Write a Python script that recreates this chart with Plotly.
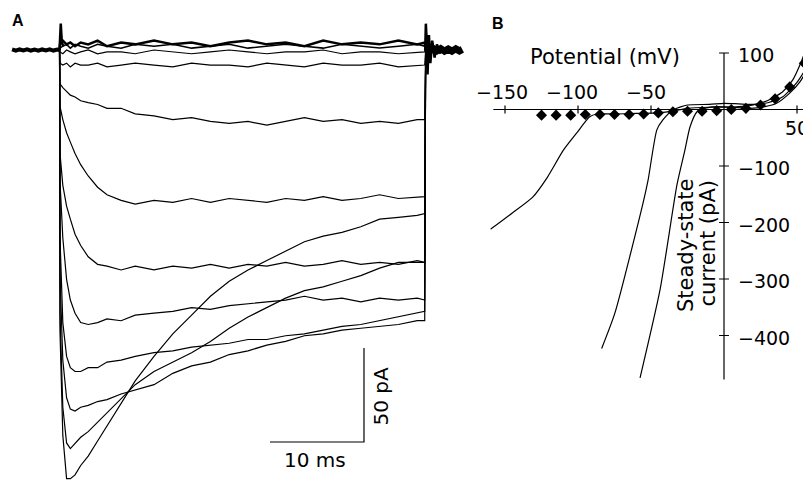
import plotly.graph_objects as go

# ================= Panel A : current traces =================
# time (ms) relative to step onset; current (pA)
t_pre = [-5.1, -4.7, -4.3, -3.9, -3.5, -3.1, -2.7, -2.3, -1.9, -1.5, -1.1, -0.7, -0.3, -0.05]
I_pre = [0.3, -0.4, 0.3, -0.2, 0.4, -0.3, 0.2, -0.4, 0.3, -0.2, 0.4, -0.3, 0.2, 0.0]

t_post = [38.95, 39.3, 39.7, 40.1, 40.5, 40.9, 41.3, 41.7, 42.1, 42.5, 42.8]
I_post = [1.0, -0.6, 0.8, -0.5, 0.7, -0.6, 0.5, -0.6, 0.6, -0.5, 0.3]

t_pulse = [0, 0.3, 0.7, 1.1, 1.6, 2.2, 3, 4, 5, 6.5, 8, 10, 12, 14, 16, 18, 20,
           22, 24, 26, 28, 30, 32, 34, 36, 38, 38.8]
t_step_off = 38.9

trace_z1 = [3, 5, 3, 4, 2, 4, 3, 5, 2, 4, 3, 5, 3, 4, 2, 4, 5, 3, 4, 2, 5, 3, 4, 3, 5, 3, 4]
trace_z2 = [1, 2, 3, 1, 3, 2, 1, 3, 2, 1, 3, 2, 3, 1, 2, 3, 1, 2, 3, 2, 1, 3, 2, 1, 2, 3, 2]
trace_z0 = [-1, -2, 0, -1, -2, -1, 0, -2, -1, -1, -2, 0, -1, -2, -1, 0, -1, -2, -1, -1, 0, -2, -1, -1, -2, -1, -1]
trace_3 = [-7, -8, -7, -9, -7, -8, -8, -7, -9, -8, -7, -8, -9, -7, -8, -8, -9, -7, -8, -9, -7, -8, -8, -7, -9, -8, -8]
trace_4 = [-18, -20, -22, -24, -25, -27, -28, -29, -31, -31, -34, -35, -37, -36, -38, -39, -38, -40, -38, -36, -38, -37, -39, -38, -39, -37, -37]
trace_5 = [-30, -37, -44, -49, -55, -61, -67, -73, -77, -80, -82, -80, -81, -79, -81, -79, -80, -81, -79, -80, -78, -80, -79, -77, -79, -78, -78]
trace_6 = [-55, -72, -83, -90, -98, -104, -110, -114, -115, -117, -115, -117, -115, -116, -114, -116, -114, -115, -113, -115, -114, -112, -114, -113, -114, -112, -113]
trace_7 = [-70, -100, -122, -133, -140, -145, -146, -145, -143, -144, -141, -140, -139, -137, -138, -136, -135, -134, -133, -131, -133, -132, -134, -132, -133, -132, -133]
trace_8 = [-100, -145, -163, -169, -171, -171, -169, -169, -166, -165, -163, -161, -160, -158, -157, -156, -154, -154, -152, -151, -149, -147, -146, -144, -142, -140, -139]
trace_9 = [-120, -165, -185, -191, -192, -190, -189, -187, -186, -183, -181, -178, -172, -168, -166, -162, -160, -157, -155, -152, -151, -149, -148, -147, -146, -144, -144]
trace_10 = [-140, -190, -209, -212, -209, -206, -203, -198, -193, -185, -178, -171, -166, -161, -155, -148, -142, -137, -132, -128, -126, -123, -120, -116, -113, -113, -113]
trace_11 = [-150, -205, -228, -228, -226, -221, -216, -208, -200, -188, -176, -163, -151, -141, -131, -123, -117, -112, -107, -102, -99, -97, -94, -90, -89, -88, -87]

# capacitive transients at step on / off
t_on = [-0.05, 0.0, 0.08, 0.2, 0.35]
I_on = [0, 8, 14, 4, 2]
t_off = [38.85, 38.92, 39.0, 39.1, 39.25, 39.4, 39.6, 39.85, 40.1, 40.5]
I_off = [0, 14, 6, -13, 8, -7, 5, -4, 3, -2]

# scale bar (10 ms, 50 pA)
scale_ms = 10
scale_pA = 50
scale_corner_t = 32.34
scale_corner_I = -208.5

# ================= Panel B : steady-state I-V =================
V_ss = [-125, -115, -105, -95, -85, -75, -65, -55, -45, -35, -25, -15, -5, 5, 15, 25, 35, 45, 55]
I_ss = [-10, -10, -10, -9, -9, -9, -9, -8, -6, -4, -3, -3, -2, 0, 2, 8, 19, 40, 82]

ramp1_V = [-160, -145, -131, -121, -110, -101, -92, -87, -75, -60, -45, -35, -25, -10, 0, 10, 20, 30, 40, 47, 53, 58]
ramp1_I = [-212, -183, -155, -120, -72, -42, -13, -8, -8, -7, -6, -3, 2, 4, 4, 5, 8, 16, 31, 52, 85, 120]
ramp2_V = [-83.8, -74.7, -55.5, -52, -46, -42, -35, -25, -10, 0, 10, 20, 30, 40, 50, 58]
ramp2_I = [-423, -360, -166, -125, -36, -19, -1, 8, 9, 11, 10, 9, 12, 22, 48, 80]
ramp3_V = [-57.5, -43.8, -32.2, -26.7, -23.3, -18.5, -12, -5, 5, 18, 28, 36, 45, 52, 58]
ramp3_I = [-475, -319, -133, -71, -31, -4, 3, 5, 4, 2, 5, 11, 29, 49, 75]

x_ticks = [-150, -100, -50, 50]
x_tick_labels = ["−150", "−100", "−50", "50"]
y_ticks = [100, -100, -200, -300, -400]
y_tick_labels = ["100", "−100", "−200", "−300", "−400"]

# ============================================================
fig = go.Figure()
BLACK = "black"

# Panel A
fig.add_trace(go.Scatter(x=t_pre, y=I_pre, mode="lines",
                         line=dict(color=BLACK, width=4), xaxis="x", yaxis="y"))
fig.add_trace(go.Scatter(x=t_post, y=I_post, mode="lines",
                         line=dict(color=BLACK, width=7), xaxis="x", yaxis="y"))
pulse_traces = [(trace_z1, 2.5), (trace_z2, 1.5), (trace_z0, 1.2), (trace_3, 1.2),
                (trace_4, 1.2), (trace_5, 1.2), (trace_6, 1.2), (trace_7, 1.2),
                (trace_8, 1.2), (trace_9, 1.2), (trace_10, 1.2), (trace_11, 1.2)]
for vals, w in pulse_traces:
    xs = [t_pre[-1]] + t_pulse + [t_step_off]
    ys = [0] + vals + [0]
    fig.add_trace(go.Scatter(x=xs, y=ys, mode="lines",
                             line=dict(color=BLACK, width=w), xaxis="x", yaxis="y"))
fig.add_trace(go.Scatter(x=t_on, y=I_on, mode="lines",
                         line=dict(color=BLACK, width=2.5), xaxis="x", yaxis="y"))
fig.add_trace(go.Scatter(x=t_off, y=I_off, mode="lines",
                         line=dict(color=BLACK, width=2.5), xaxis="x", yaxis="y"))
fig.add_trace(go.Scatter(
    x=[scale_corner_t - scale_ms, scale_corner_t, scale_corner_t],
    y=[scale_corner_I, scale_corner_I, scale_corner_I + scale_pA],
    mode="lines", line=dict(color=BLACK, width=1.2), xaxis="x", yaxis="y"))

# Panel B curves
for vx, iy in [(ramp1_V, ramp1_I), (ramp2_V, ramp2_I), (ramp3_V, ramp3_I)]:
    fig.add_trace(go.Scatter(x=vx, y=iy, mode="lines",
                             line=dict(color=BLACK, width=1.2, shape="spline", smoothing=0.6),
                             xaxis="x2", yaxis="y2"))
fig.add_trace(go.Scatter(x=V_ss, y=I_ss, mode="markers",
                         marker=dict(symbol="diamond", size=8.5, color=BLACK),
                         xaxis="x2", yaxis="y2"))

shapes = []
# axis lines of panel B
shapes.append(dict(type="line", xref="x2", yref="y2", x0=-158, x1=54.11, y0=0, y1=0,
                   line=dict(color=BLACK, width=1.2)))
shapes.append(dict(type="line", xref="x2", yref="y2", x0=0, x1=0, y0=100, y1=-478,
                   line=dict(color=BLACK, width=1.2)))
for v in x_ticks:
    shapes.append(dict(type="line", xref="x2", yref="y2", x0=v, x1=v, y0=-7, y1=7,
                       line=dict(color=BLACK, width=1.2)))
for v in y_ticks:
    shapes.append(dict(type="line", xref="x2", yref="y2", x0=-3.4, x1=3.4, y0=v, y1=v,
                       line=dict(color=BLACK, width=1.2)))

TICKFONT = dict(family="DejaVu Sans", size=19, color=BLACK)
TITLEFONT = dict(family="DejaVu Sans", size=21, color=BLACK)
ann = []
x_label_pos = {-150: (-152.4, 31), -100: (-103.8, 31), -50: (-53.4, 31), 50: (50, -33.6)}
for v, lab in zip(x_ticks, x_tick_labels):
    px, py = x_label_pos[v]
    ann.append(dict(x=px, y=py, xref="x2", yref="y2", text=lab, showarrow=False,
                    font=TICKFONT, xanchor="center", yanchor="middle"))
for v, lab in zip(y_ticks, y_tick_labels):
    ann.append(dict(x=8.2, y=v - 4, xref="x2", yref="y2", text=lab, showarrow=False,
                    font=TICKFONT, xanchor="left", yanchor="middle"))
ann.append(dict(x=-81.2, y=92.9, xref="x2", yref="y2", text="Potential (mV)",
                showarrow=False, font=TITLEFONT, xanchor="center", yanchor="middle"))
ann.append(dict(x=-26.0, y=-239.8, xref="x2", yref="y2", text="Steady-state",
                showarrow=False, font=TITLEFONT, textangle=-90,
                xanchor="center", yanchor="middle"))
ann.append(dict(x=-11.6, y=-237.2, xref="x2", yref="y2", text="current (pA)",
                showarrow=False, font=TITLEFONT, textangle=-90,
                xanchor="center", yanchor="middle"))
# scale bar labels
ann.append(dict(x=27.13, y=-218.1, xref="x", yref="y", text="10 ms", showarrow=False,
                font=dict(family="DejaVu Sans", size=20, color=BLACK),
                xanchor="center", yanchor="middle"))
ann.append(dict(x=34.1, y=-184, xref="x", yref="y", text="50 pA", showarrow=False,
                font=dict(family="DejaVu Sans", size=20, color=BLACK), textangle=-90,
                xanchor="center", yanchor="middle"))
# panel letters
ann.append(dict(x=17.5 / 803, y=1 - 21 / 483, xref="paper", yref="paper", text="<b>A</b>",
                showarrow=False, font=dict(family="Liberation Sans", size=16, color=BLACK),
                xanchor="center", yanchor="middle"))
ann.append(dict(x=498 / 803, y=1 - 23.3 / 483, xref="paper", yref="paper", text="<b>B</b>",
                showarrow=False, font=dict(family="Liberation Sans", size=16, color=BLACK),
                xanchor="center", yanchor="middle"))

fig.update_layout(
    width=803, height=483, autosize=False,
    margin=dict(l=0, r=0, t=0, b=0),
    paper_bgcolor="white", plot_bgcolor="white",
    showlegend=False,
    xaxis=dict(domain=[0.013848, 0.57808], range=[-5.2, 43.0], visible=False),
    yaxis=dict(domain=[0.001242, 0.974327], range=[-230, 20], visible=False),
    xaxis2=dict(domain=[0.61071, 1.0], range=[-160, 54.11], visible=False, anchor="y2"),
    yaxis2=dict(domain=[0.20010, 0.89611], range=[-490, 105], visible=False, anchor="x2"),
    shapes=shapes,
    annotations=ann,
)

fig.write_html("out.html", config={"displayModeBar": False},
               post_script="document.body.style.margin='0';")
